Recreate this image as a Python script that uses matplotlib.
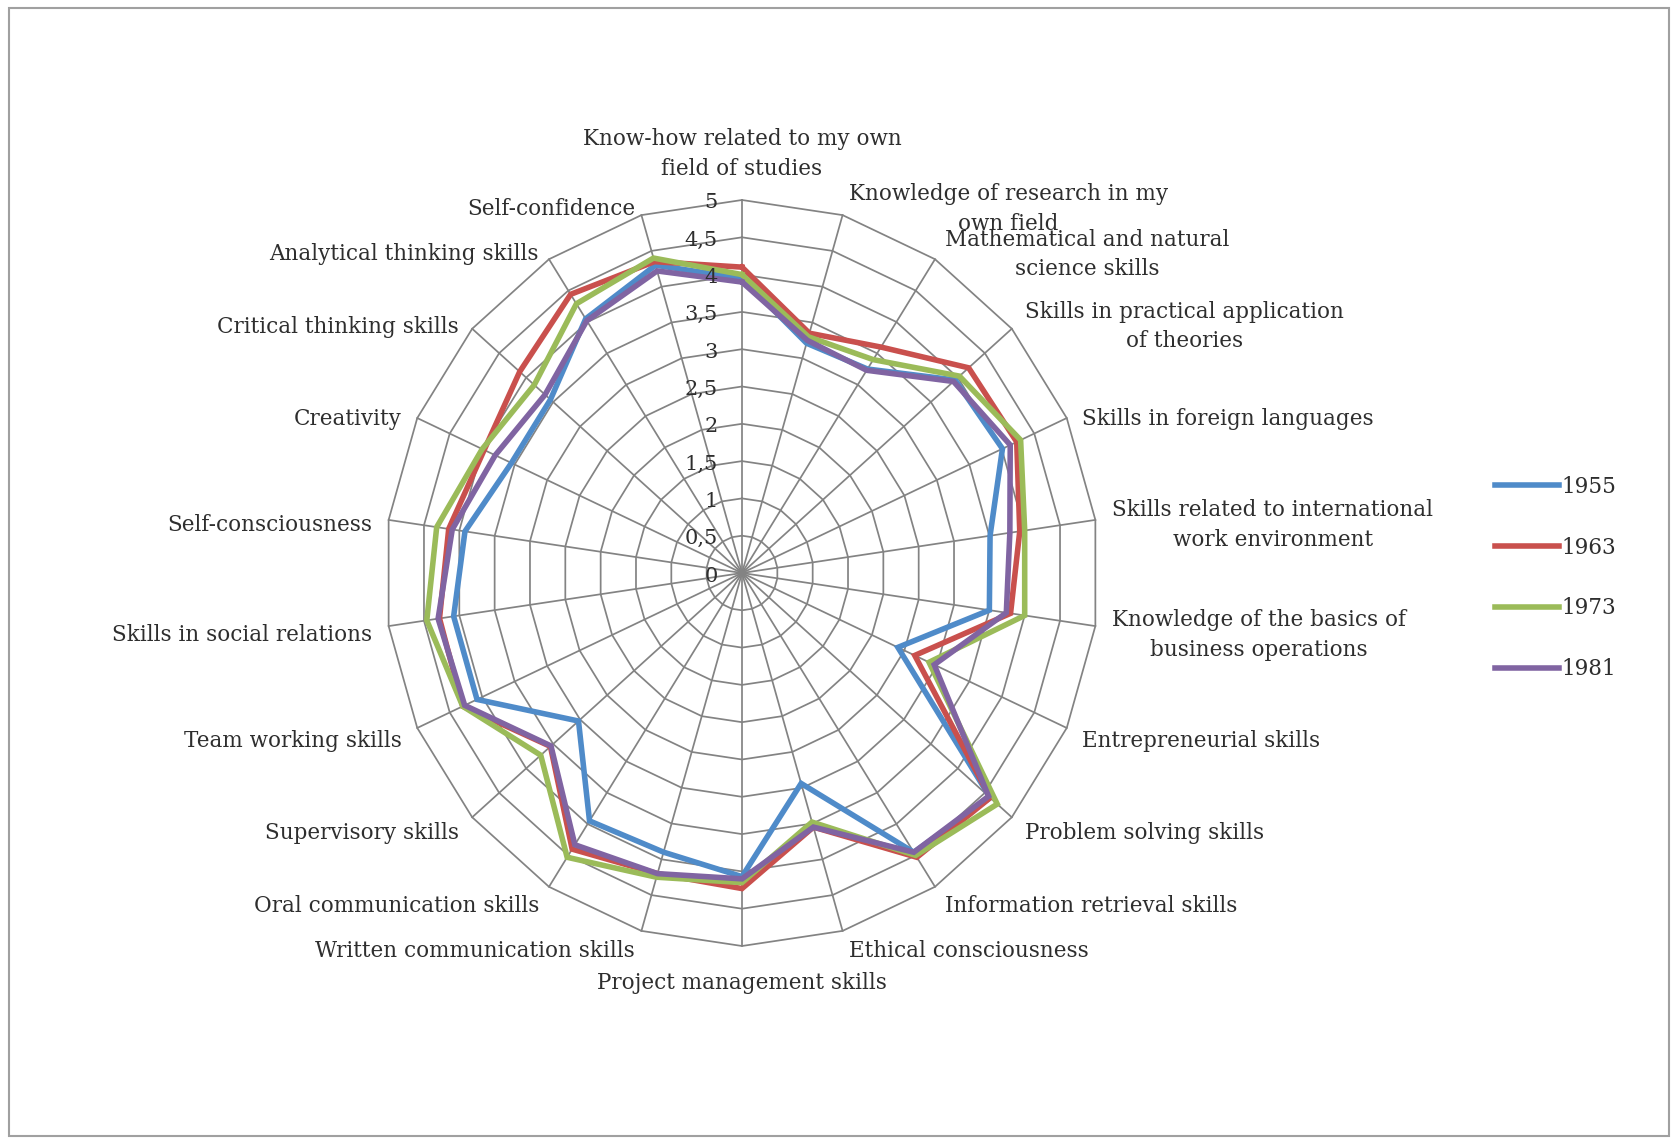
import numpy as np
import matplotlib
matplotlib.use("Agg")
import matplotlib.pyplot as plt
from matplotlib.patches import Rectangle

categories = [
    "Know-how related to my own\nfield of studies",
    "Knowledge of research in my\nown field",
    "Mathematical and natural\nscience skills",
    "Skills in practical application\nof theories",
    "Skills in foreign languages",
    "Skills related to international\nwork environment",
    "Knowledge of the basics of\nbusiness operations",
    "Entrepreneurial skills",
    "Problem solving skills",
    "Information retrieval skills",
    "Ethical consciousness",
    "Project management skills",
    "Written communication skills",
    "Oral communication skills",
    "Supervisory skills",
    "Team working skills",
    "Skills in social relations",
    "Self-consciousness",
    "Creativity",
    "Critical thinking skills",
    "Analytical thinking skills",
    "Self-confidence",
]
years = ["1955", "1963", "1973", "1981"]
v1955 = [3.95, 3.21, 3.25, 3.95, 4.01, 3.51, 3.50, 2.40, 4.60, 4.45, 2.94,
         4.07, 3.90, 3.95, 3.03, 4.08, 4.08, 3.92, 3.55, 3.55, 4.05, 4.30]
v1963 = [4.10, 3.35, 3.60, 4.20, 4.23, 3.93, 3.80, 2.66, 4.60, 4.53, 3.55,
         4.23, 4.20, 4.40, 3.55, 4.30, 4.28, 4.15, 3.97, 4.12, 4.44, 4.35]
v1973 = [4.00, 3.30, 3.40, 4.03, 4.29, 4.00, 4.00, 2.88, 4.73, 4.50, 3.48,
         4.15, 4.25, 4.53, 3.73, 4.30, 4.46, 4.32, 4.00, 3.85, 4.29, 4.40]
v1981 = [3.90, 3.25, 3.23, 3.92, 4.13, 3.79, 3.74, 2.96, 4.57, 4.45, 3.55,
         4.10, 4.20, 4.33, 3.54, 4.27, 4.30, 4.10, 3.80, 3.65, 4.02, 4.22]
radial_ticks = [0, 0.5, 1, 1.5, 2, 2.5, 3, 3.5, 4, 4.5, 5]
radial_labels = ["0", "0,5", "1", "1,5", "2", "2,5", "3", "3,5", "4", "4,5", "5"]

series = [v1955, v1963, v1973, v1981]
colors = ["#4F8BC9", "#C9504D", "#9BBB59", "#8064A2"]
grid_color = "#838383"
text_color = "#2E2E2E"
FONT = "DejaVu Serif"

W, H = 1674, 1139
fig = plt.figure(figsize=(W / 100, H / 100), dpi=100)
fig.patch.set_facecolor("white")

cx, cy = 742, 573
rx, ry = 357, 373
ax = fig.add_axes([(cx - rx) / W, (H - cy - ry) / H, 2 * rx / W, 2 * ry / H],
                  projection="polar")
ax.set_aspect("auto")
ax.set_theta_zero_location("N")
ax.set_theta_direction(-1)
ax.set_ylim(0, 5)
ax.grid(False)
ax.set_xticks([])
ax.set_yticks([])
ax.spines["polar"].set_visible(False)
ax.patch.set_alpha(0)

n = len(categories)
theta = np.arange(n) * 2 * np.pi / n
theta_c = np.append(theta, theta[0])

# polygonal grid rings
for lv in radial_ticks[1:]:
    ax.plot(theta_c, np.full(n + 1, lv), color=grid_color, lw=1.25,
            clip_on=False, zorder=1)
# spokes
for t in theta:
    ax.plot([t, t], [0, 5], color=grid_color, lw=1.25, clip_on=False, zorder=1)

# data series
for vals, col, yr in zip(series, colors, years):
    v = np.append(vals, vals[0])
    ax.plot(theta_c, v, color=col, lw=4.0, label=yr, zorder=3,
            solid_joinstyle="miter", clip_on=False)

# radial tick labels
for r, lab in zip(radial_ticks, radial_labels):
    ax.annotate(lab, xy=(0, r), xycoords="data", xytext=(-24, -3),
                textcoords="offset pixels", ha="right", va="center",
                fontsize=15, family=FONT, color=text_color, zorder=5)

# category labels
for t, lab in zip(theta, categories):
    s, c = np.sin(t), np.cos(t)
    if abs(s) < 1e-6:
        if c > 0:
            ha, va, off = "center", "bottom", (0, 20)
        else:
            ha, va, off = "center", "top", (0, -26)
    else:
        ha = "left" if s > 0 else "right"
        va = "center"
        off = (15 * s + (2 if s > 0 else -2), 14 * c - 7)
    ax.annotate(lab, xy=(t, 5), xycoords="data", xytext=off,
                textcoords="offset pixels", ha=ha, va=va,
                multialignment="center", linespacing=1.45, fontsize=15.5,
                family=FONT, color=text_color, annotation_clip=False)

# legend
handles, labels = ax.get_legend_handles_labels()
fig.legend(handles, labels, loc="center left",
           bbox_to_anchor=(1484 / W, 1 - 578 / H), frameon=False,
           handlelength=3.0, handletextpad=0.1, labelspacing=1.8,
           borderpad=0, prop={"family": FONT, "size": 15.5},
           labelcolor=text_color)

# outer border
fig.patches.append(Rectangle((9 / W, 3 / H), (1669 - 9) / W, (1136 - 8) / H,
                             transform=fig.transFigure, fill=False,
                             edgecolor="#A0A0A0", lw=1.5))

fig.savefig("out.png", dpi=100)
